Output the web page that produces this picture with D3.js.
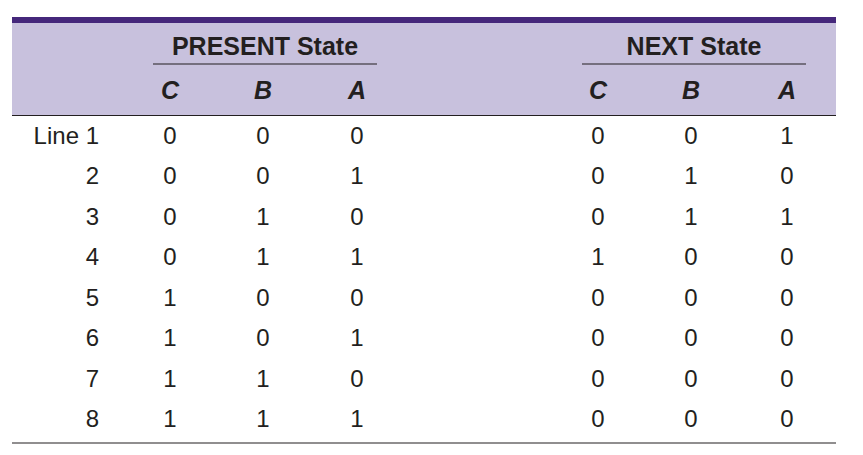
<!DOCTYPE html><html><head><meta charset="utf-8"><script src="https://cdn.jsdelivr.net/npm/d3@7"></script>
<style>body{margin:0;background:#fff}text{font-family:"Liberation Sans",Arial,sans-serif}</style></head><body>
<svg id="c" width="863" height="455"></svg>
<script>
const rowLabels=["Line 1","2","3","4","5","6","7","8"];
const colLabels=["C","B","A","C","B","A"];
const groupLabels=["PRESENT State","NEXT State"];
const presentC=[0,0,0,0,1,1,1,1], presentB=[0,0,1,1,0,0,1,1], presentA=[0,1,0,1,0,1,0,1];
const nextC=[0,0,0,1,0,0,0,0], nextB=[0,1,1,0,0,0,0,0], nextA=[1,0,1,0,0,0,0,0];
const cols=[presentC,presentB,presentA,nextC,nextB,nextA];
const svg=d3.select("#c");
const colX=[170,263,357,598,691,787];
const x=d3.scaleOrdinal().domain(d3.range(6)).range(colX);
const y=d3.scaleLinear().domain([0,7]).range([135,418]);
svg.append("rect").attr("x",12).attr("y",23).attr("width",824).attr("height",92).attr("fill","#c8c1dd");
svg.append("rect").attr("x",12).attr("y",17).attr("width",824).attr("height",6).attr("fill","#45277b");
svg.append("line").attr("x1",12).attr("x2",836).attr("y1",115.5).attr("y2",115.5).attr("stroke","#231f20").attr("stroke-width",1.2);
svg.append("line").attr("x1",12).attr("x2",836).attr("y1",443).attr("y2",443).attr("stroke","#231f20").attr("stroke-width",1.2);
[[153,377,265],[582,806,694]].forEach((g,i)=>{
  svg.append("line").attr("x1",g[0]).attr("x2",g[1]).attr("y1",64).attr("y2",64).attr("stroke","#231f20").attr("stroke-width",1.2);
  svg.append("text").attr("x",g[2]).attr("y",55).attr("text-anchor","middle").attr("font-weight","bold").attr("font-size",25).attr("fill","#231f20").text(groupLabels[i]);
});
colLabels.forEach((c,i)=>svg.append("text").attr("x",x(i)).attr("y",99).attr("text-anchor","middle").attr("font-weight","bold").attr("font-style","italic").attr("font-size",25).attr("fill","#231f20").text(c));
rowLabels.forEach((r,j)=>svg.append("text").attr("x",99).attr("y",y(j)+9).attr("text-anchor","end").attr("font-size",24).attr("fill","#231f20").text(r));
cols.forEach((col,i)=>col.forEach((v,j)=>svg.append("text").attr("x",x(i)).attr("y",y(j)+9).attr("text-anchor","middle").attr("font-size",24).attr("fill","#231f20").text(v)));
</script></body></html>
